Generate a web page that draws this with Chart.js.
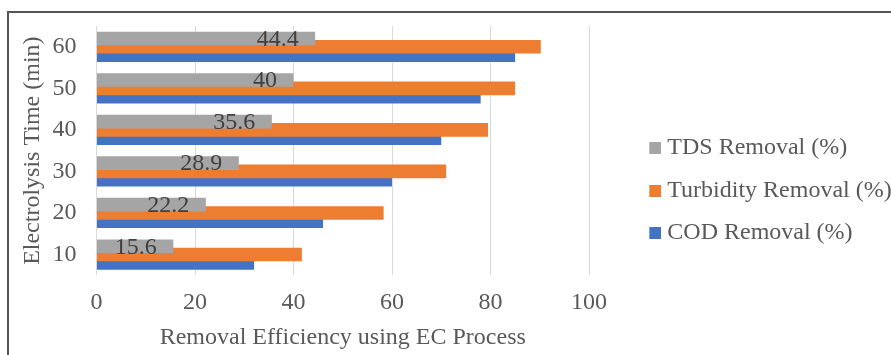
<!DOCTYPE html>
<html>
<head>
<meta charset="utf-8">
<script src="https://cdn.jsdelivr.net/npm/chart.js@4/dist/chart.umd.min.js"></script>
<style>
  html, body { margin: 0; padding: 0; background: #ffffff; overflow: hidden; }
  #wrap { position: relative; width: 891px; height: 355px; }
  #frame {
    position: absolute; left: 7px; top: 11px; width: 1000px; height: 500px;
    border-left: 2px solid #555555; border-top: 2px solid #555555;
  }
  #chart { position: absolute; left: 0; top: 0; }
</style>
</head>
<body>
<div id="wrap">
  <div id="frame"></div>
  <canvas id="chart" width="891" height="355"></canvas>
</div>
<script>
// Electrolysis time (min) and removal efficiencies (%)
const categories = ['10', '20', '30', '40', '50', '60'];
const tdsRemoval = [15.6, 22.2, 28.9, 35.6, 40, 44.4];
const turbidityRemoval = [41.7, 58.3, 71, 79.5, 85, 90.2];
const codRemoval = [32, 46, 60, 70, 78, 85];
const xTickValues = [0, 20, 40, 60, 80, 100];

const seriesNames = ['TDS Removal (%)', 'Turbidity Removal (%)', 'COD Removal (%)'];
const seriesColors = ['#A5A5A5', '#ED7D31', '#4472C4'];

const FONT = "'Liberation Serif', 'Times New Roman', serif";
const FONT_SIZE = 24;
const TEXT = '#595959';

// Small square legend swatches, drawn on the right half of a wider canvas
// so the square sits close to its label.
function makeSwatch(color) {
  const c = document.createElement('canvas');
  c.width = 24; c.height = 12;
  const g = c.getContext('2d');
  g.fillStyle = color;
  g.fillRect(12, 0, 12, 12);
  return c;
}
const swatches = seriesColors.map(makeSwatch);

// Value labels inside the end of the TDS bars
const tdsLabels = {
  id: 'tdsLabels',
  afterDatasetsDraw(chart) {
    const ctx = chart.ctx;
    const meta = chart.getDatasetMeta(0);
    ctx.save();
    ctx.font = FONT_SIZE + 'px ' + FONT;
    ctx.fillStyle = '#404040';
    ctx.textAlign = 'right';
    ctx.textBaseline = 'middle';
    meta.data.forEach((bar, i) => {
      ctx.fillText(String(tdsRemoval[i]), bar.x - 16.5, bar.y + 1);
    });
    ctx.restore();
  }
};

new Chart(document.getElementById('chart'), {
  type: 'bar',
  data: {
    labels: categories,
    datasets: [
      { label: seriesNames[0], data: tdsRemoval, backgroundColor: seriesColors[0] },
      { label: seriesNames[1], data: turbidityRemoval, backgroundColor: seriesColors[1] },
      { label: seriesNames[2], data: codRemoval, backgroundColor: seriesColors[2] }
    ]
  },
  options: {
    indexAxis: 'y',
    responsive: false,
    animation: false,
    devicePixelRatio: 1,
    categoryPercentage: 0.6,
    barPercentage: 1.64,
    layout: { padding: { top: 26, left: 8, right: 0, bottom: 0 } },
    scales: {
      x: {
        min: 0,
        max: 100,
        afterBuildTicks(scale) { scale.ticks = xTickValues.map(v => ({ value: v })); },
        afterFit(scale) { scale.height = 79.7; },
        grid: { color: '#d9d9d9', lineWidth: 1, drawTicks: false },
        border: { display: false },
        ticks: { padding: 13.3, color: TEXT, font: { family: FONT, size: FONT_SIZE } },
        title: {
          display: true,
          text: 'Removal Efficiency using EC Process',
          color: TEXT,
          font: { family: FONT, size: FONT_SIZE },
          padding: { top: 0, bottom: 2.6 }
        }
      },
      y: {
        reverse: true,
        afterFit(scale) {
          scale.width = 88.5;
          scale.paddingTop = 0;
          scale.paddingBottom = 0;
        },
        grid: { display: false, drawTicks: false },
        border: { display: false },
        ticks: { padding: 20, color: TEXT, font: { family: FONT, size: FONT_SIZE } },
        title: {
          display: true,
          text: 'Electrolysis Time (min)',
          color: TEXT,
          font: { family: FONT, size: FONT_SIZE },
          padding: { top: 10.4, bottom: 0 }
        }
      },
      gap: {
        type: 'linear',
        position: 'right',
        grid: { display: false },
        ticks: { display: false },
        border: { display: false },
        afterFit(scale) { scale.width = 35.8; }
      }
    },
    plugins: {
      tooltip: { enabled: false },
      legend: {
        position: 'right',
        maxWidth: 266.2,
        labels: {
          usePointStyle: true,
          pointStyleWidth: 12,
          padding: 18.5,
          color: TEXT,
          font: { family: FONT, size: FONT_SIZE },
          generateLabels(chart) {
            const items = Chart.defaults.plugins.legend.labels.generateLabels(chart);
            items.forEach((item, i) => { item.pointStyle = swatches[i]; });
            return items;
          }
        }
      }
    }
  },
  plugins: [tdsLabels]
});
</script>
</body>
</html>
